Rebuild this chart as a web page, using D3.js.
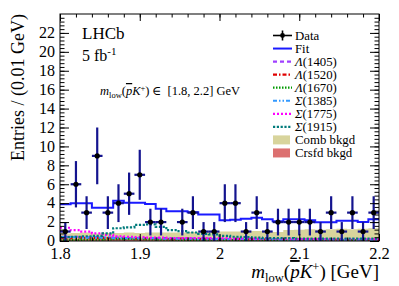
<!DOCTYPE html>
<html lang="en">
<head>
<meta charset="utf-8">
<script src="https://d3js.org/d3.v7.min.js"></script>
<style>
  body { margin: 0; background: #fff; }
  text { font-family: "Liberation Serif", "DejaVu Serif", serif; }
</style>
</head>
<body>
<svg width="399" height="286"></svg>
<script>

// 30 bins between 1.8 and 2.2 GeV
var xRange = [1.8, 2.2];
var nBins = 30;

var counts = [1, 6, 3, 9, 3, 4, 5, 7, 2, 2, 0, 2, 3, 1, 1, 4, 4, 1, 3, 1, 2, 2, 2, 2, 1, 3, 1, 3, 1, 3];
var fit = [3.88, 3.98, 3.98, 3.52, 3.52, 4.26, 4.05, 4.05, 3.9, 3.4, 3.15, 3.15, 3.05, 2.8, 2.8,
           2.2, 2.25, 2.35, 2.45, 2.3, 2.1, 2.3, 2.3, 2.2, 1.97, 1.97, 2.15, 2.15, 2.0, 2.3];
var lam1405 = [0.45, 0.45, 0.4, 0.4, 0.35, 0.35, 0.3, 0.3, 0.3, 0.3, 0.25, 0.25, 0.25, 0.25, 0.2,
               0.2, 0.2, 0.2, 0.2, 0.2, 0.2, 0.15, 0.15, 0.15, 0.15, 0.15, 0.15, 0.15, 0.15, 0.15];
var lam1520 = [0.3, 0.35, 0.3, 0.3, 0.3, 0.25, 0.3, 0.25, 0.25, 0.25, 0.2, 0.25, 0.2, 0.2, 0.2,
               0.2, 0.2, 0.15, 0.2, 0.15, 0.15, 0.15, 0.15, 0.15, 0.15, 0.1, 0.15, 0.1, 0.1, 0.1];
var lam1670 = [0.1, 0.12, 0.15, 0.15, 0.18, 0.2, 0.22, 0.2, 0.18, 0.15, 0.15, 0.12, 0.12, 0.1, 0.1,
               0.1, 0.1, 0.1, 0.1, 0.1, 0.08, 0.08, 0.08, 0.08, 0.08, 0.08, 0.08, 0.08, 0.08, 0.08];
var sig1385 = [0.4, 0.4, 0.35, 0.35, 0.35, 0.3, 0.3, 0.3, 0.3, 0.25, 0.25, 0.25, 0.25, 0.2, 0.2,
               0.2, 0.2, 0.2, 0.2, 0.2, 0.15, 0.15, 0.15, 0.15, 0.15, 0.15, 0.15, 0.15, 0.15, 0.15];
var sig1775 = [1.4, 1.15, 1.0, 0.8, 0.65, 0.5, 0.45, 0.4, 0.35, 0.35, 0.3, 0.3, 0.3, 0.3, 0.3,
               0.3, 0.25, 0.25, 0.25, 0.25, 0.25, 0.25, 0.2, 0.2, 0.2, 0.2, 0.2, 0.2, 0.2, 0.2];
var sig1915 = [0.4, 0.45, 0.5, 0.55, 0.8, 1.35, 1.45, 1.7, 1.75, 1.5, 1.15, 1.05, 0.9, 0.75, 0.7,
               0.55, 0.45, 0.4, 0.35, 0.3, 0.3, 0.3, 0.25, 0.25, 0.25, 0.25, 0.25, 0.25, 0.25, 0.25];
var comb = [0.6, 0.65, 0.65, 0.6, 0.65, 0.65, 0.7, 0.65, 0.7, 0.7, 0.7, 0.7, 0.75, 0.75, 0.8,
            0.8, 0.8, 0.85, 0.85, 0.8, 0.75, 0.95, 1.0, 1.05, 1.0, 1.05, 1.1, 1.05, 1.1, 1.15];
var crsfd = [0.2, 0.2, 0.25, 0.2, 0.2, 0.2, 0.2, 0.2, 0.2, 0.2, 0.2, 0.2, 0.2, 0.2, 0.2,
             0.2, 0.2, 0.2, 0.2, 0.2, 0.2, 0.2, 0.2, 0.2, 0.2, 0.2, 0.2, 0.2, 0.2, 0.2];

var xTicks = [1.8, 1.9, 2.0, 2.1, 2.2];
var xTickLabels = ["1.8", "1.9", "2", "2.1", "2.2"];
var yTicks = [0, 2, 4, 6, 8, 10, 12, 14, 16, 18, 20, 22];

var components = [
  {name: "\u039B", mass: "(1405)", values: lam1405, color: "#a040ff", dash: "4,3"},
  {name: "\u039B", mass: "(1520)", values: lam1520, color: "#e00000", dash: "4,2,1.5,2"},
  {name: "\u039B", mass: "(1670)", values: lam1670, color: "#009a00", dash: "1.5,1.5"},
  {name: "\u03A3", mass: "(1385)", values: sig1385, color: "#3399ff", dash: "4,2,1.5,2,1.5,2"},
  {name: "\u03A3", mass: "(1775)", values: sig1775, color: "#ff00ff", dash: "2,2"},
  {name: "\u03A3", mass: "(1915)", values: sig1915, color: "#007b7b", dash: "2.2,1.6"}
];

var svg = d3.select("svg"),
    margin = {top: 14, right: 20, bottom: 45, left: 60},
    width = +svg.attr("width") - margin.left - margin.right,
    height = +svg.attr("height") - margin.top - margin.bottom,
    g = svg.append("g").attr("transform", "translate(" + margin.left + "," + margin.top + ")");

var x = d3.scaleLinear().domain(xRange).range([0, width]);
var y = d3.scaleLinear().domain([0, 24]).range([height, 0]);

var binW = (xRange[1] - xRange[0]) / nBins;
function lo(i) { return xRange[0] + i * binW; }

function stepPoints(vals) {
  var pts = vals.map(function (v, i) { return [lo(i), v]; });
  pts.push([xRange[1], vals[vals.length - 1]]);
  return pts;
}

var stepLine = d3.line()
  .x(function (d) { return x(d[0]); })
  .y(function (d) { return y(d[1]); })
  .curve(d3.curveStepAfter);

var stepArea = d3.area()
  .x(function (d) { return x(d[0]); })
  .y0(function (d) { return y(d[2]); })
  .y1(function (d) { return y(d[1]); })
  .curve(d3.curveStepAfter);

g.append("clipPath").attr("id", "clip")
  .append("rect").attr("width", width).attr("height", height);

var plot = g.append("g").attr("clip-path", "url(#clip)");

// backgrounds: cross-feed at the bottom, combinatorial on top
var crsPts = stepPoints(crsfd).map(function (p) { return [p[0], p[1], 0]; });
plot.append("path").attr("d", stepArea(crsPts)).attr("fill", "#dc7070");
var combPts = stepPoints(comb).map(function (p, i) {
  var c = crsfd[Math.min(i, nBins - 1)];
  return [p[0], p[1] + c, c];
});
plot.append("path").attr("d", stepArea(combPts)).attr("fill", "#d8d49c");

components.forEach(function (c) {
  plot.append("path")
    .attr("d", stepLine(stepPoints(c.values)))
    .attr("fill", "none")
    .attr("stroke", c.color)
    .attr("stroke-width", 2.2)
    .attr("stroke-dasharray", c.dash);
});

plot.append("path")
  .attr("d", stepLine(stepPoints(fit)))
  .attr("fill", "none")
  .attr("stroke", "#1a1aff")
  .attr("stroke-width", 2);

// data points
var pts = counts.map(function (n, i) { return {i: i, n: n}; }).filter(function (d) { return d.n > 0; });
var dataG = plot.append("g");
dataG.selectAll(".vbar").data(pts).enter().append("line")
  .attr("x1", function (d) { return x(lo(d.i) + binW / 2); })
  .attr("x2", function (d) { return x(lo(d.i) + binW / 2); })
  .attr("y1", function (d) { return y(d.n - Math.sqrt(d.n)); })
  .attr("y2", function (d) { return y(d.n + Math.sqrt(d.n)); })
  .attr("stroke", "#14148f").attr("stroke-width", 2.2);
dataG.selectAll(".hbar").data(pts).enter().append("line")
  .attr("x1", function (d) { return x(lo(d.i)); })
  .attr("x2", function (d) { return x(lo(d.i) + binW); })
  .attr("y1", function (d) { return y(d.n); })
  .attr("y2", function (d) { return y(d.n); })
  .attr("stroke", "#14148f").attr("stroke-width", 2.2);
dataG.selectAll("circle").data(pts).enter().append("circle")
  .attr("cx", function (d) { return x(lo(d.i) + binW / 2); })
  .attr("cy", function (d) { return y(d.n); })
  .attr("r", 2.6)
  .attr("fill", "#000");

// axes with inward ticks on all four sides
var yMinor = d3.range(0, 24, 0.4);
var xMinor = d3.range(1.8, 2.2001, 0.02);

function noDomain(sel) { sel.select(".domain").remove(); sel.selectAll("line").attr("stroke", "#000"); }

g.append("g").call(d3.axisLeft(y).tickValues(yMinor).tickSize(-4.5).tickFormat("")).call(noDomain);
g.append("g").call(d3.axisLeft(y).tickValues(yTicks).tickSize(-9).tickPadding(5))
  .call(noDomain)
  .selectAll("text").style("font-size", "16px").style("font-family", "Liberation Serif").attr("fill", "#000")
  .attr("dy", "0.3em");
g.append("g").attr("transform", "translate(" + width + ",0)")
  .call(d3.axisRight(y).tickValues(yMinor).tickSize(-4.5).tickFormat("")).call(noDomain);
g.append("g").attr("transform", "translate(" + width + ",0)")
  .call(d3.axisRight(y).tickValues(yTicks).tickSize(-9).tickFormat("")).call(noDomain);

g.append("g").attr("transform", "translate(0," + height + ")")
  .call(d3.axisBottom(x).tickValues(xMinor).tickSize(-3.5).tickFormat("")).call(noDomain);
g.append("g").attr("transform", "translate(0," + height + ")")
  .call(d3.axisBottom(x).tickValues(xTicks).tickSize(-7).tickPadding(6)
    .tickFormat(function (d, i) { return xTickLabels[i]; }))
  .call(noDomain)
  .selectAll("text").style("font-size", "16.5px").style("font-family", "Liberation Serif").attr("fill", "#000");
g.append("g").call(d3.axisTop(x).tickValues(xMinor).tickSize(-3.5).tickFormat("")).call(noDomain);
g.append("g").call(d3.axisTop(x).tickValues(xTicks).tickSize(-7).tickFormat("")).call(noDomain);

g.append("rect").attr("width", width).attr("height", height)
  .attr("fill", "none").attr("stroke", "#000").attr("stroke-width", 1);

// axis titles
svg.append("text")
  .attr("transform", "translate(24," + margin.top + ") rotate(-90)")
  .attr("text-anchor", "end")
  .style("font-size", "18px")
  .text("Entries / (0.01 GeV)");

var xt = svg.append("text")
  .attr("x", margin.left + width).attr("y", 278)
  .attr("text-anchor", "end")
  .style("font-size", "19px");
xt.append("tspan").style("font-style", "italic").text("m");
xt.append("tspan").attr("dy", 4).style("font-size", "12.5px").text("low");
xt.append("tspan").attr("dy", -4).text("(");
xt.append("tspan").style("font-style", "italic").style("text-decoration", "overline").text("p");
xt.append("tspan").style("font-style", "italic").text("K");
xt.append("tspan").attr("dy", -7).style("font-size", "12.5px").text("+");
xt.append("tspan").attr("dy", 7).text(") [GeV]");

// labels inside the frame
svg.append("text").attr("x", 82).attr("y", 39).style("font-size", "17px").text("LHCb");
var lumi = svg.append("text").attr("x", 82).attr("y", 61).style("font-size", "16px");
lumi.append("tspan").text("5 fb");
lumi.append("tspan").attr("dy", -6).style("font-size", "11px").text("-1");

var ann = svg.append("text").attr("x", 100).attr("y", 95).style("font-size", "12.5px");
ann.append("tspan").style("font-style", "italic").text("m");
ann.append("tspan").attr("dy", 3).style("font-size", "8.5px").text("low");
ann.append("tspan").attr("dy", -3).text("(");
ann.append("tspan").style("font-style", "italic").style("text-decoration", "overline").text("p");
ann.append("tspan").style("font-style", "italic").text("K");
ann.append("tspan").attr("dy", -4.5).style("font-size", "8.5px").text("+");
ann.append("tspan").attr("dy", 4.5).text(")\u2009\u2208\u00A0\u00A0[1.8, 2.2] GeV");

// legend
var leg = svg.append("g");
var ly0 = 35.5, ldy = 13.05, lx0 = 273, lx1 = 292, ltx = 295;
function legText(row) {
  return leg.append("text").attr("x", ltx).attr("y", ly0 + row * ldy + 4.3).style("font-size", "12.8px");
}
// Data
leg.append("line").attr("x1", lx0).attr("x2", lx1).attr("y1", ly0).attr("y2", ly0)
  .attr("stroke", "#000").attr("stroke-width", 1.6);
leg.append("line").attr("x1", (lx0 + lx1) / 2).attr("x2", (lx0 + lx1) / 2).attr("y1", ly0 - 5).attr("y2", ly0 + 5)
  .attr("stroke", "#000").attr("stroke-width", 1.6);
leg.append("circle").attr("cx", (lx0 + lx1) / 2).attr("cy", ly0).attr("r", 2.4).attr("fill", "#000");
legText(0).text("Data");
// Fit
leg.append("line").attr("x1", lx0).attr("x2", lx1).attr("y1", ly0 + ldy).attr("y2", ly0 + ldy)
  .attr("stroke", "#1a1aff").attr("stroke-width", 2);
legText(1).text("Fit");
components.forEach(function (c, k) {
  var row = k + 2, yy = ly0 + row * ldy;
  leg.append("line").attr("x1", lx0).attr("x2", lx1).attr("y1", yy).attr("y2", yy)
    .attr("stroke", c.color).attr("stroke-width", 2.2).attr("stroke-dasharray", c.dash);
  var t = legText(row);
  t.append("tspan").style("font-style", "italic").text(c.name);
  t.append("tspan").text(c.mass);
});
leg.append("rect").attr("x", lx0).attr("y", ly0 + 8 * ldy - 4.5).attr("width", 17).attr("height", 9)
  .attr("fill", "#d8d49c");
legText(8).text("Comb bkgd");
leg.append("rect").attr("x", lx0).attr("y", ly0 + 9 * ldy - 4.5).attr("width", 17).attr("height", 9)
  .attr("fill", "#dc7070");
legText(9).text("Crsfd bkgd");

</script>
</body>
</html>
